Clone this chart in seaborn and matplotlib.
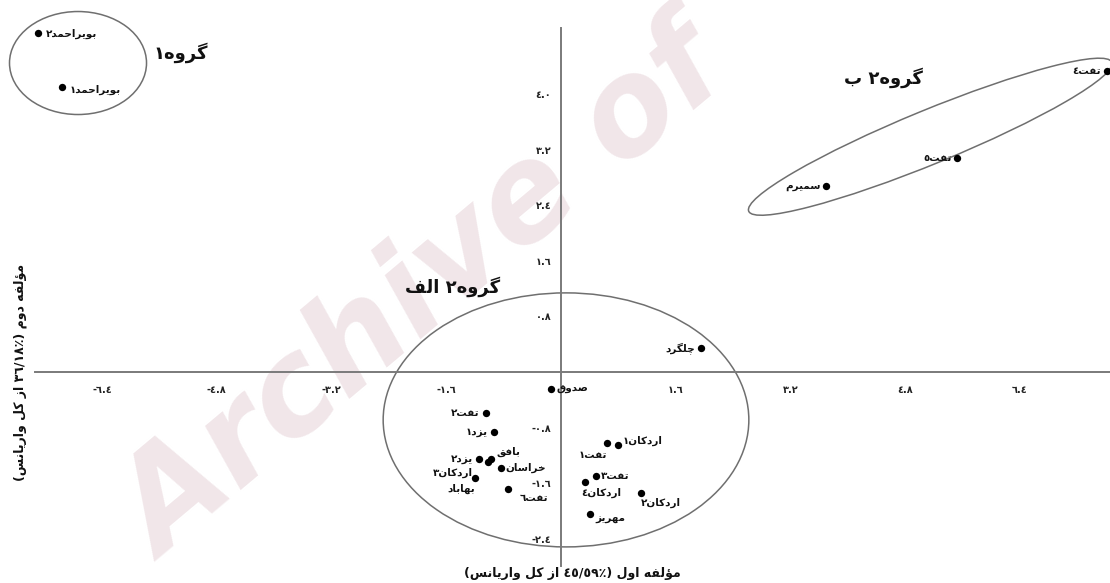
import re
import numpy as np
import pandas as pd
import matplotlib
matplotlib.use("Agg")
import matplotlib.pyplot as plt
from matplotlib.patches import Ellipse
from matplotlib.ticker import FixedLocator, FuncFormatter
import seaborn as sns

# ---- data: PCA scores of the sampled populations ----
sites = ["بویراحمد٢", "بویراحمد١", "تفت٤", "تفت٥", "سمیرم", "چلگرد", "صدوق",
         "تفت٢", "یزد١", "یزد٢", "بافق", "اردکان٣", "خراسان", "بهاباد", "تفت٦",
         "اردکان١", "تفت١", "تفت٣", "اردکان٤", "اردکان٢", "مهریز"]
pc1 = [-7.30, -6.96, 7.61, 5.53, 3.70, 1.95, -0.14,
       -1.05, -0.94, -1.14, -0.98, -1.02, -0.83, -1.20, -0.74,
       0.79, 0.64, 0.49, 0.33, 1.11, 0.41]
pc2 = [4.89, 4.10, 4.34, 3.08, 2.68, 0.34, -0.25,
       -0.59, -0.86, -1.25, -1.26, -1.30, -1.39, -1.53, -1.68,
       -1.05, -1.03, -1.50, -1.59, -1.74, -2.05]

x_ticks = [-6.4, -4.8, -3.2, -1.6, 1.6, 3.2, 4.8, 6.4]
y_ticks = [-2.4, -1.6, -0.8, 0.8, 1.6, 2.4, 3.2, 4.0]
group_names = ["گروه١", "گروه٢ ب", "گروه٢ الف"]
x_title = "مؤلفه اول (٤٥/٥٩٪ از کل واریانس)"
y_title = "مؤلفه دوم (٣٦/١٨٪ از کل واریانس)"
watermark = "Archive of"

# ---- minimal Arabic/Persian shaping + right-to-left ordering ----
FORMS = {  # isolated, final, initial, medial
    "ا": ("\uFE8D", "\uFE8E", None, None),
    "ب": ("\uFE8F", "\uFE90", "\uFE91", "\uFE92"),
    "ت": ("\uFE95", "\uFE96", "\uFE97", "\uFE98"),
    "ح": ("\uFEA1", "\uFEA2", "\uFEA3", "\uFEA4"),
    "خ": ("\uFEA5", "\uFEA6", "\uFEA7", "\uFEA8"),
    "د": ("\uFEA9", "\uFEAA", None, None),
    "ر": ("\uFEAD", "\uFEAE", None, None),
    "ز": ("\uFEAF", "\uFEB0", None, None),
    "س": ("\uFEB1", "\uFEB2", "\uFEB3", "\uFEB4"),
    "ص": ("\uFEB9", "\uFEBA", "\uFEBB", "\uFEBC"),
    "ف": ("\uFED1", "\uFED2", "\uFED3", "\uFED4"),
    "ق": ("\uFED5", "\uFED6", "\uFED7", "\uFED8"),
    "ک": ("\uFB8E", "\uFB8F", "\uFB90", "\uFB91"),
    "گ": ("\uFB92", "\uFB93", "\uFB94", "\uFB95"),
    "ل": ("\uFEDD", "\uFEDE", "\uFEDF", "\uFEE0"),
    "م": ("\uFEE1", "\uFEE2", "\uFEE3", "\uFEE4"),
    "ن": ("\uFEE5", "\uFEE6", "\uFEE7", "\uFEE8"),
    "ه": ("\uFEE9", "\uFEEA", "\uFEEB", "\uFEEC"),
    "و": ("\uFEED", "\uFEEE", None, None),
    "ی": ("\uFBFC", "\uFBFD", "\uFBFE", "\uFBFF"),
    "ؤ": ("\uFE85", "\uFE86", None, None),
    "چ": ("\uFB7A", "\uFB7B", "\uFB7C", "\uFB7D"),
}
MIRROR = {"(": ")", ")": "("}


def shape(s):
    out = []
    for i, ch in enumerate(s):
        if ch not in FORMS:
            out.append(ch)
            continue
        iso, fin, ini, med = FORMS[ch]
        prev = s[i - 1] if i > 0 else None
        nxt = s[i + 1] if i + 1 < len(s) else None
        j_prev = prev in FORMS and FORMS[prev][2] is not None
        j_next = ini is not None and nxt in FORMS
        if j_prev and j_next:
            out.append(med)
        elif j_prev:
            out.append(fin)
        elif j_next:
            out.append(ini)
        else:
            out.append(iso)
    return "".join(out)


def rtl(s):
    tokens = re.findall(r"[0-9\u0660-\u0669./\u066A]+|.", shape(s))
    return "".join(MIRROR.get(t, t) for t in reversed(tokens))


def arabic_digits(v):
    txt = f"{v:.1f}"
    return txt.translate(str.maketrans("0123456789", "٠١٢٣٤٥٦٧٨٩"))


# ---- label placement (offset in pixels, horizontal alignment) ----
label_style = {
    "بویراحمد٢": (8, -1, "left"), "بویراحمد١": (8, -2, "left"),
    "تفت٤": (-6, 0, "right"), "تفت٥": (-6, 0, "right"),
    "سمیرم": (-6, 0, "right"), "چلگرد": (-6, 0, "right"),
    "صدوق": (6, 0, "left"), "تفت٢": (-6, 0, "right"),
    "یزد١": (-6, 0, "right"), "یزد٢": (-6, 0, "right"),
    "بافق": (6, 8, "left"), "اردکان٣": (-15, -11, "right"),
    "خراسان": (4, 1, "left"), "بهاباد": (0, -11, "right"),
    "تفت٦": (12, -9, "left"), "اردکان١": (5, 4, "left"),
    "تفت١": (0, -12, "right"), "تفت٣": (5, 0, "left"),
    "اردکان٤": (-3, -11, "left"), "اردکان٢": (0, -10, "left"),
    "مهریز": (5, -5, "left"),
}

sns.set_theme(style="white")
plt.rcParams["font.family"] = ["DejaVu Sans"]
axis_grey = "#7a7a7a"

df = pd.DataFrame({"site": sites, "pc1": pc1, "pc2": pc2})

fig = plt.figure(figsize=(11.1, 5.83), dpi=100)
ax = fig.add_axes([0, 0, 1, 1])
ax.set_xlim(-7.824, 7.657)
ax.set_ylim(-3.040, 5.360)

# faint watermark behind everything
ax.text(-5.55, -2.75, watermark, transform=ax.transData, rotation=40,
        rotation_mode="anchor", fontsize=94, fontweight="bold", style="italic",
        color="#f1e6e9", zorder=0, ha="left", va="baseline")

sns.scatterplot(data=df, x="pc1", y="pc2", color="black", s=28,
                edgecolor="black", linewidth=0, legend=False, ax=ax, zorder=5)
ax.set_xlabel("")
ax.set_ylabel("")

for name, x, y in zip(sites, pc1, pc2):
    dx, dy, ha = label_style[name]
    ax.annotate(rtl(name), (x, y), xytext=(dx, dy), textcoords="offset pixels",
                ha=ha, va="center", fontsize=7.5, fontweight="bold",
                color="#111111", zorder=6)

# group envelopes
for (cx, cy, w, h, ang) in [(-6.736, 4.452, 1.911, 1.484, 0),
                            (5.15, 3.39, 5.5, 0.77, 23),
                            (0.07, -0.69, 5.10, 3.66, 0)]:
    ax.add_patch(Ellipse((cx, cy), w, h, angle=ang, fill=False,
                         edgecolor="#6f6f6f", linewidth=1.1, zorder=3))

for txt, (gx, gy) in zip(group_names, [(-5.30, 4.60), (4.50, 4.24), (-1.506, 1.225)]):
    ax.text(gx, gy, rtl(txt), ha="center", va="center", fontsize=13,
            fontweight="bold", color="#111111", zorder=6)

# axes crossing at the origin
for side in ("top", "right"):
    ax.spines[side].set_visible(False)
ax.spines["left"].set_position(("data", 0))
ax.spines["bottom"].set_position(("data", 0))
ax.spines["left"].set_bounds(-2.79, 4.96)
ax.spines["bottom"].set_bounds(-7.34, 7.657)
for side in ("left", "bottom"):
    ax.spines[side].set_color(axis_grey)
    ax.spines[side].set_linewidth(1.4)
    ax.spines[side].set_zorder(4)

fmt = FuncFormatter(lambda v, _: arabic_digits(v))
ax.xaxis.set_major_locator(FixedLocator(x_ticks))
ax.yaxis.set_major_locator(FixedLocator(y_ticks))
ax.xaxis.set_major_formatter(fmt)
ax.yaxis.set_major_formatter(fmt)
ax.tick_params(axis="both", direction="out", length=4, width=1,
               color=axis_grey, labelsize=7, labelcolor="#222222", pad=3)
ax.tick_params(axis="x", pad=5)
for lab in ax.get_xticklabels() + ax.get_yticklabels():
    lab.set_fontweight("bold")

ax.text(0.16, -2.905, rtl(x_title), ha="center", va="center", fontsize=9,
        fontweight="bold", color="#111111")
ax.text(-7.54, 0.0, rtl(y_title), ha="center", va="center", fontsize=9,
        fontweight="bold", color="#111111", rotation=90)

fig.savefig("out.png", dpi=100, facecolor="white")
